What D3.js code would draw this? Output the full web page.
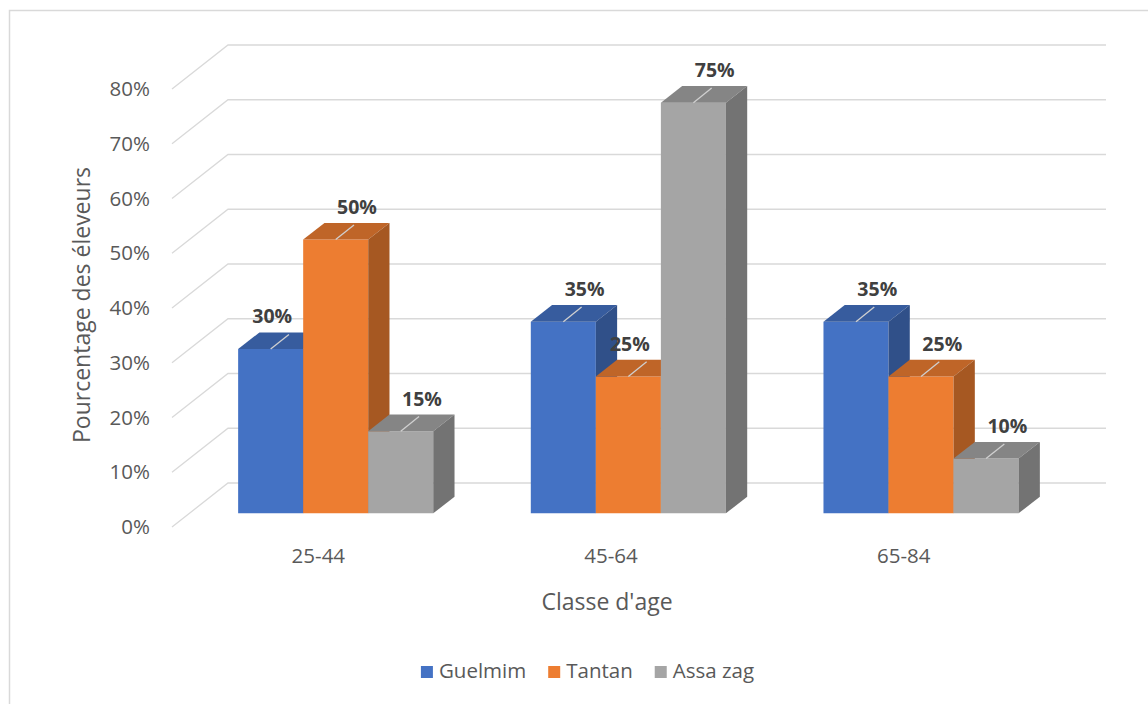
<!DOCTYPE html>
<html>
<head>
<meta charset="utf-8">
<script src="https://cdn.jsdelivr.net/npm/d3@7"></script>
<style>
  body { margin: 0; background: #fff; }
  text { font-family: "Open Sans", sans-serif; }
</style>
</head>
<body>
<svg id="chart" width="1148" height="704"></svg>
<script>
// data
const ageClasses = ["25-44", "45-64", "65-84"];
const regions = ["Guelmim", "Tantan", "Assa zag"];
const guelmim = [0.30, 0.35, 0.35];
const tantan = [0.50, 0.25, 0.25];
const assaZag = [0.15, 0.75, 0.10];
const yTicks = [0, 0.1, 0.2, 0.3, 0.4, 0.5, 0.6, 0.7, 0.8];
const colors = ["#4472C4", "#ED7D31", "#A5A5A5"];

const seriesValues = [guelmim, tantan, assaZag];

const svg = d3.select("#chart");

// chart area border
svg.append("rect")
    .attr("x", 9.5).attr("y", 10.5)
    .attr("width", 1200).attr("height", 760)
    .attr("fill", "none")
    .attr("stroke", "#d9d9d9")
    .attr("stroke-width", 1.5);

// 3d projection: depth offset of the back wall
const DX = 56, DY = 44;
const floorLeft = 172, floorRight = 1050;

const x = d3.scaleBand()
    .domain(ageClasses)
    .range([floorLeft, floorRight]);

const xSub = d3.scaleBand()
    .domain(regions)
    .range([0, x.bandwidth()])
    .paddingInner(0)
    .paddingOuter(0.75);

const y = d3.scaleLinear()
    .domain([0, 0.8])
    .range([527, 89]);

const proj = (px, v, z) => [px + z * DX, y(v) - z * DY];

// gridlines (left wall + back wall)
svg.append("g")
    .selectAll("polyline")
    .data(yTicks)
    .join("polyline")
    .attr("points", d => [proj(floorLeft, d, 0), proj(floorLeft, d, 1), proj(floorRight, d, 1)].map(p => p.join(",")).join(" "))
    .attr("fill", "none")
    .attr("stroke", "#d9d9d9")
    .attr("stroke-width", 1.3);

// y axis labels
const yAxis = svg.append("g")
    .attr("transform", `translate(${floorLeft},0)`)
    .call(d3.axisLeft(y).tickValues(yTicks).tickFormat(d3.format(".0%")).tickSize(0).tickPadding(22));
yAxis.select(".domain").remove();
yAxis.selectAll("text")
    .attr("fill", "#595959")
    .style("font-size", "20.5px")
    .style("font-family", "'Open Sans', sans-serif");

// x axis labels
const xAxis = svg.append("g")
    .attr("transform", `translate(0,${y(0)})`)
    .call(d3.axisBottom(x).tickSize(0).tickPadding(21));
xAxis.select(".domain").remove();
xAxis.selectAll("text")
    .attr("fill", "#595959")
    .style("font-size", "20.5px")
    .style("font-family", "'Open Sans', sans-serif");

// bars
const zFront = 0.31, zBack = 0.69;
const bars = [];
ageClasses.forEach((c, i) => {
    regions.forEach((r, j) => {
        const next = j < regions.length - 1 ? seriesValues[j + 1][i] : null;
        bars.push({ cat: c, key: r, value: seriesValues[j][i], next: next, color: colors[j] });
    });
});

const poly = pts => pts.map(p => p.join(",")).join(" ");

const barG = svg.append("g")
    .selectAll("g")
    .data(bars)
    .join("g");

const labelG = svg.append("g");

barG.each(function (d) {
    const g = d3.select(this);
    const x0 = x(d.cat) + xSub(d.key);
    const x1 = x0 + xSub.bandwidth();
    const c = d3.color(d.color);
    // front
    g.append("polygon")
        .attr("points", poly([proj(x0, 0, zFront), proj(x1, 0, zFront), proj(x1, d.value, zFront), proj(x0, d.value, zFront)]))
        .attr("fill", c.formatHex());
    // top
    g.append("polygon")
        .attr("points", poly([proj(x0, d.value, zFront), proj(x1, d.value, zFront), proj(x1, d.value, zBack), proj(x0, d.value, zBack)]))
        .attr("fill", c.darker(0.6).formatHex());
    // right side
    g.append("polygon")
        .attr("points", poly([proj(x1, 0, zFront), proj(x1, 0, zBack), proj(x1, d.value, zBack), proj(x1, d.value, zFront)]))
        .attr("fill", c.darker(1.0).formatHex());
    // leader line on top face
    const xm = (x0 + x1) / 2;
    const a = proj(xm, d.value, zFront), b = proj(xm, d.value, zBack);
    g.append("line")
        .attr("x1", a[0]).attr("y1", a[1])
        .attr("x2", b[0] - 3).attr("y2", b[1] + 2)
        .attr("stroke", "#d0d0d0")
        .attr("stroke-width", 1.3);
    // value label, pushed left when the next bar is taller
    let lx = b[0];
    if (d.next !== null && d.next > d.value) {
        const nextLeft = proj(x1, 0, zFront)[0];
        lx = Math.min(lx, nextLeft - 21 - 10);
    }
    labelG.append("text")
        .attr("x", lx)
        .attr("y", b[1] - 9)
        .attr("text-anchor", "middle")
        .attr("fill", "#404040")
        .style("font-size", "19.5px")
        .style("font-weight", "bold")
        .text(d3.format(".0%")(d.value));
});

// axis titles
svg.append("text")
    .attr("x", 607).attr("y", 610)
    .attr("text-anchor", "middle")
    .attr("fill", "#595959")
    .style("font-size", "23px")
    .text("Classe d'age");

svg.append("text")
    .attr("transform", "translate(90,305) rotate(-90)")
    .attr("text-anchor", "middle")
    .attr("fill", "#595959")
    .style("font-size", "23px")
    .text("Pourcentage des éleveurs");

// legend
const legend = svg.append("g");
const items = legend.selectAll("g")
    .data(regions)
    .join("g");
items.append("rect")
    .attr("width", 12).attr("height", 12)
    .attr("y", -12)
    .attr("fill", (d, i) => colors[i]);
items.append("text")
    .attr("x", 18)
    .attr("y", 0)
    .attr("fill", "#595959")
    .style("font-size", "20.5px")
    .text(d => d);

let cx = 0;
items.each(function () {
    const w = d3.select(this).select("text").node().getComputedTextLength();
    d3.select(this).attr("transform", `translate(${cx},0)`);
    cx += 18 + w + 22;
});
const total = cx - 22;
legend.attr("transform", `translate(${587.5 - total / 2},678)`);
</script>
</body>
</html>
